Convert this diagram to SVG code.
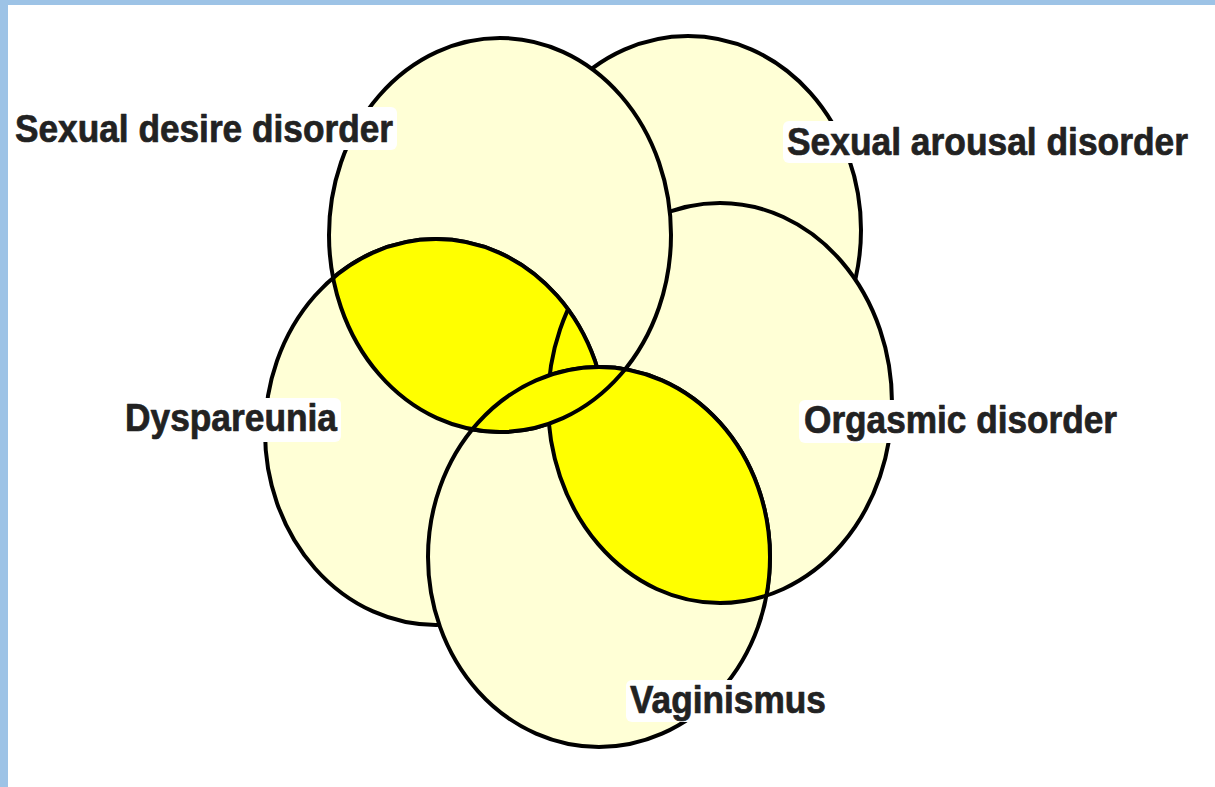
<svg xmlns="http://www.w3.org/2000/svg" width="1215" height="787" viewBox="0 0 1215 787">
<style>
.base{fill:#FFFFD6;stroke:#000;stroke-width:4}
.lensfill{fill:#FFFF00;stroke:none}
.line{fill:none;stroke:#000;stroke-width:4}
.halo{fill:#fff;stroke:none}
.lbl{font-family:"Liberation Sans",Arial,sans-serif;font-weight:bold;font-size:38px;fill:#222;stroke:#222;stroke-width:0.7;stroke-linejoin:round}
</style>
<defs>
<clipPath id="cA"><ellipse cx="500" cy="235" rx="171" ry="197"/></clipPath>
<clipPath id="cD"><ellipse cx="436" cy="432" rx="171" ry="193"/></clipPath>
<clipPath id="cO"><ellipse cx="720" cy="403" rx="172" ry="200"/></clipPath>
<clipPath id="cE"><ellipse cx="599" cy="557" rx="171" ry="190"/></clipPath>
</defs>
<rect x="0" y="0" width="1215" height="787" fill="#fff"/>
<rect x="0" y="0" width="1215" height="5" fill="#9DC3E6"/>
<rect x="0" y="0" width="8" height="787" fill="#9DC3E6"/>

<g id="node-arousal">
<ellipse class="base" cx="688" cy="230" rx="173" ry="194"/>
<rect class="halo" x="783" y="121" width="409" height="42" rx="6"/>
<text class="lbl" x="787" y="155" textLength="401" lengthAdjust="spacingAndGlyphs">Sexual arousal disorder</text>
</g>
<g id="node-orgasmic">
<ellipse class="base" cx="720" cy="403" rx="172" ry="200"/>
<rect class="halo" x="799" y="400" width="323" height="43" rx="6"/>
<text class="lbl" x="804" y="433" textLength="313" lengthAdjust="spacingAndGlyphs">Orgasmic disorder</text>
</g>
<g id="node-desire">
<ellipse class="base" cx="500" cy="235" rx="171" ry="197"/>
<rect class="halo" x="11" y="107" width="386" height="43" rx="6"/>
<text class="lbl" x="15" y="142" textLength="378" lengthAdjust="spacingAndGlyphs">Sexual desire disorder</text>
</g>
<g id="node-dyspareunia">
<ellipse class="base" cx="436" cy="432" rx="171" ry="193"/>
<rect class="halo" x="121" y="398" width="220" height="44" rx="6"/>
<text class="lbl" x="125" y="431" textLength="212" lengthAdjust="spacingAndGlyphs">Dyspareunia</text>
</g>
<g id="node-vaginismus">
<ellipse class="base" cx="599" cy="557" rx="171" ry="190"/>
<rect class="halo" x="626" y="680" width="204" height="42" rx="6"/>
<text class="lbl" x="630" y="713" textLength="196" lengthAdjust="spacingAndGlyphs">Vaginismus</text>
</g>

<g id="overlaps">
<g id="desire-dyspareunia">
<ellipse class="lensfill" clip-path="url(#cD)" cx="500" cy="235" rx="171" ry="197"/>
<ellipse class="line" clip-path="url(#cD)" cx="500" cy="235" rx="171" ry="197"/>
<ellipse class="line" clip-path="url(#cA)" cx="436" cy="432" rx="171" ry="193"/>
<g clip-path="url(#cD)"><ellipse class="line" clip-path="url(#cA)" cx="720" cy="403" rx="172" ry="200"/></g>
</g>
<g id="orgasmic-vaginismus">
<ellipse class="lensfill" clip-path="url(#cE)" cx="720" cy="403" rx="172" ry="200"/>
<ellipse class="line" clip-path="url(#cE)" cx="720" cy="403" rx="172" ry="200"/>
<ellipse class="line" clip-path="url(#cO)" cx="599" cy="557" rx="171" ry="190"/>
</g>
<g id="desire-vaginismus">
<ellipse class="lensfill" clip-path="url(#cE)" cx="500" cy="235" rx="171" ry="197"/>
<ellipse class="line" clip-path="url(#cE)" cx="500" cy="235" rx="171" ry="197"/>
<ellipse class="line" clip-path="url(#cA)" cx="599" cy="557" rx="171" ry="190"/>
</g>
</g>
<g id="connectors"/>
</svg>
